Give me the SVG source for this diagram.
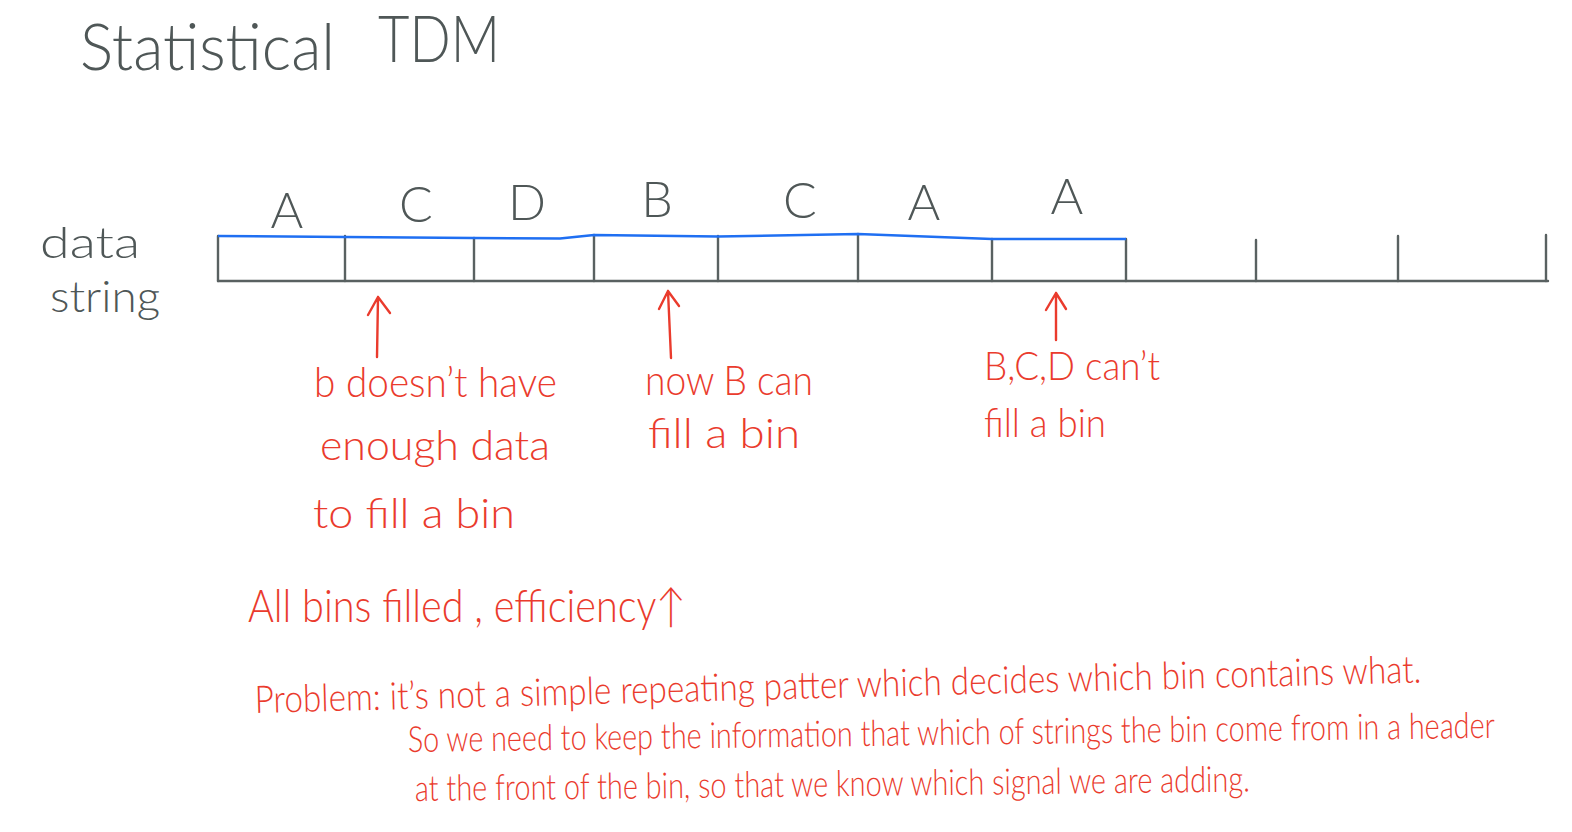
<svg xmlns="http://www.w3.org/2000/svg" width="1572" height="832" viewBox="0 0 1572 832">
<style>
  .ink { fill: #4f5757; font-family: Lato, "Open Sans", "Liberation Sans", sans-serif; font-weight: 300; }
  .red { fill: #ea3b2d; font-family: Lato, "Open Sans", "Liberation Sans", sans-serif; font-weight: 300; }
  .gray { stroke: #596161; stroke-width: 2.4; fill: none; stroke-linecap: round; }
  .blue { stroke: #1f6ff2; stroke-width: 2.6; fill: none; stroke-linejoin: round; }
  .arr { stroke: #ea3b2d; stroke-width: 2.4; fill: none; stroke-linecap: round; stroke-linejoin: round; }
</style>
<rect width="1572" height="832" fill="#ffffff"/>

<g id="title">
  <text class="ink" x="80" y="70" font-size="66" textLength="255" lengthAdjust="spacingAndGlyphs">Statistical</text>
  <text class="ink" x="378" y="62" font-size="66" textLength="122" lengthAdjust="spacingAndGlyphs">TDM</text>
</g>

<g id="data-string-label">
  <text class="ink" x="40" y="258" font-size="44" textLength="100" lengthAdjust="spacingAndGlyphs">data</text>
  <text class="ink" x="50" y="312" font-size="44" textLength="110" lengthAdjust="spacingAndGlyphs">string</text>
</g>

<g id="data-string">
  <path class="gray" d="M218 281 H1548"/>
  <path class="gray" d="M218 236 V281 M345 236 V281 M474 238 V281 M594 235 V281 M718 236 V281 M858 234 V281 M992 239 V281 M1126 239 V281 M1256 240 V281 M1398 236 V281 M1546 235 V281"/>
  <path class="blue" d="M218 236 L345 237 L474 238 L560 238.5 L594 235 L718 236.5 L858 234 L992 239 L1126 239"/>
</g>

<g id="bin-labels">
  <text class="ink" x="287" y="228" font-size="50" text-anchor="middle">A</text>
  <text class="ink" x="416" y="222" font-size="50" text-anchor="middle">C</text>
  <text class="ink" x="527" y="220" font-size="50" text-anchor="middle">D</text>
  <text class="ink" x="657" y="217" font-size="50" text-anchor="middle">B</text>
  <text class="ink" x="800" y="218" font-size="50" text-anchor="middle">C</text>
  <text class="ink" x="924" y="220" font-size="50" text-anchor="middle">A</text>
  <text class="ink" x="1067" y="214" font-size="50" text-anchor="middle">A</text>
</g>

<g id="connectors">
  <path class="arr" d="M377 357 L378 297 M368 315 L378 297 L390 313"/>
  <path class="arr" d="M671 358 L668 291 M659 309 L668 291 L679 306"/>
  <path class="arr" d="M1056 340 L1056 293 M1046 310 L1056 293 L1066 309"/>
</g>

<g id="note-b">
  <text class="red" x="314" y="397" font-size="42" textLength="243" lengthAdjust="spacingAndGlyphs">b doesn’t have</text>
  <text class="red" x="320" y="460" font-size="42" textLength="230" lengthAdjust="spacingAndGlyphs">enough  data</text>
  <text class="red" x="313" y="528" font-size="42" textLength="202" lengthAdjust="spacingAndGlyphs">to fill  a bin</text>
</g>

<g id="note-nowB">
  <text class="red" x="645" y="395" font-size="42" textLength="168" lengthAdjust="spacingAndGlyphs">now B can</text>
  <text class="red" x="648" y="448" font-size="42" textLength="152" lengthAdjust="spacingAndGlyphs">fill a bin</text>
</g>

<g id="note-bcd">
  <text class="red" x="984" y="380" font-size="40" textLength="176" lengthAdjust="spacingAndGlyphs">B,C,D can’t</text>
  <text class="red" x="984" y="437" font-size="40" textLength="122" lengthAdjust="spacingAndGlyphs">fill a bin</text>
</g>

<g id="efficiency">
  <text class="red" x="248" y="622" font-size="46" textLength="438" lengthAdjust="spacingAndGlyphs">All bins filled , efficiency↑</text>
</g>

<g id="problem">
  <text class="red" x="255" y="713" font-size="38" textLength="1167" lengthAdjust="spacingAndGlyphs" transform="rotate(-1.5 255 713)">Problem:  it’s  not  a  simple  repeating  patter  which  decides  which  bin  contains  what.</text>
  <text class="red" x="408" y="752" font-size="36" textLength="1087" lengthAdjust="spacingAndGlyphs" transform="rotate(-0.75 408 752)">So we need to keep the information that which of strings the bin come from in a header</text>
  <text class="red" x="415" y="801" font-size="36" textLength="835" lengthAdjust="spacingAndGlyphs" transform="rotate(-0.65 415 801)">at the front of the bin,  so that we know which signal we are adding.</text>
</g>
</svg>
